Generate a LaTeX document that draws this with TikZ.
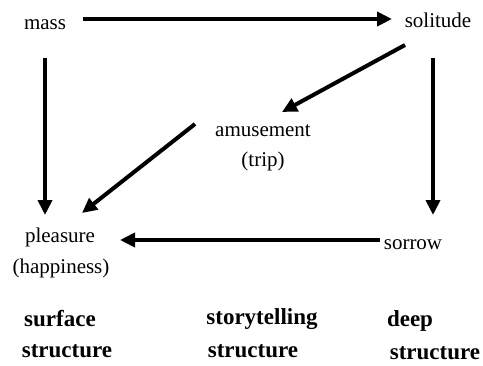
\documentclass[tikz,border=0pt]{standalone}
\usepackage{fontspec}
\setmainfont{Liberation Serif}
\usetikzlibrary{arrows.meta}

\begin{document}
\begin{tikzpicture}[x=1pt,y=-1pt]

        \tikzstyle{word}=[font=\fontsize{21}{24}\selectfont,inner sep=2pt]
        \tikzstyle{level}=[font=\fontsize{23}{26}\selectfont\bfseries,inner sep=2pt]
        \tikzstyle{arr}=[line width=4pt,-{Triangle[length=15pt,width=14pt]}]

        \useasboundingbox (0,0) rectangle (483,365);

        %% words of the story
        \node[word] (mass) at (45,25) {mass};
        \node[word] (solitude) at (438,20) {solitude};
        \node[word] (amusement) at (263,131) {amusement};
        \node[word] (trip) at (263,161) {(trip)};
        \node[word] (pleasure) at (60,237) {pleasure};
        \node[word] (happiness) at (61,268) {(happiness)};
        \node[word] (sorrow) at (413,245) {sorrow};

        %% the three structures
        \node[level] (surface) at (60,319) {surface};
        \node[level] (surfacestr) at (67,351) {structure};
        \node[level] (telling) at (262,319) {storytelling};
        \node[level] (tellingstr) at (253,351) {structure};
        \node[level] (deep) at (410,321) {deep};
        \node[level] (deepstr) at (435,353) {structure};

        %% arrows
        \draw[arr] ([shift={(38,-6)}]mass.center) -- ([shift={(-46,-1)}]solitude.center);
        \draw[arr] ([shift={(0,33)}]mass.center) -- ([shift={(-15,-22)}]pleasure.center);
        \draw[arr] ([shift={(-33,25)}]solitude.center) -- ([shift={(19,-19)}]amusement.center);
        \draw[arr] ([shift={(-68,-7)}]amusement.center) -- ([shift={(22,-24)}]pleasure.center);
        \draw[arr] ([shift={(-5,38)}]solitude.center) -- ([shift={(20,-30)}]sorrow.center);
        \draw[arr] ([shift={(-33,-5)}]sorrow.center) -- ([shift={(60,3)}]pleasure.center);

\end{tikzpicture}
\end{document}
